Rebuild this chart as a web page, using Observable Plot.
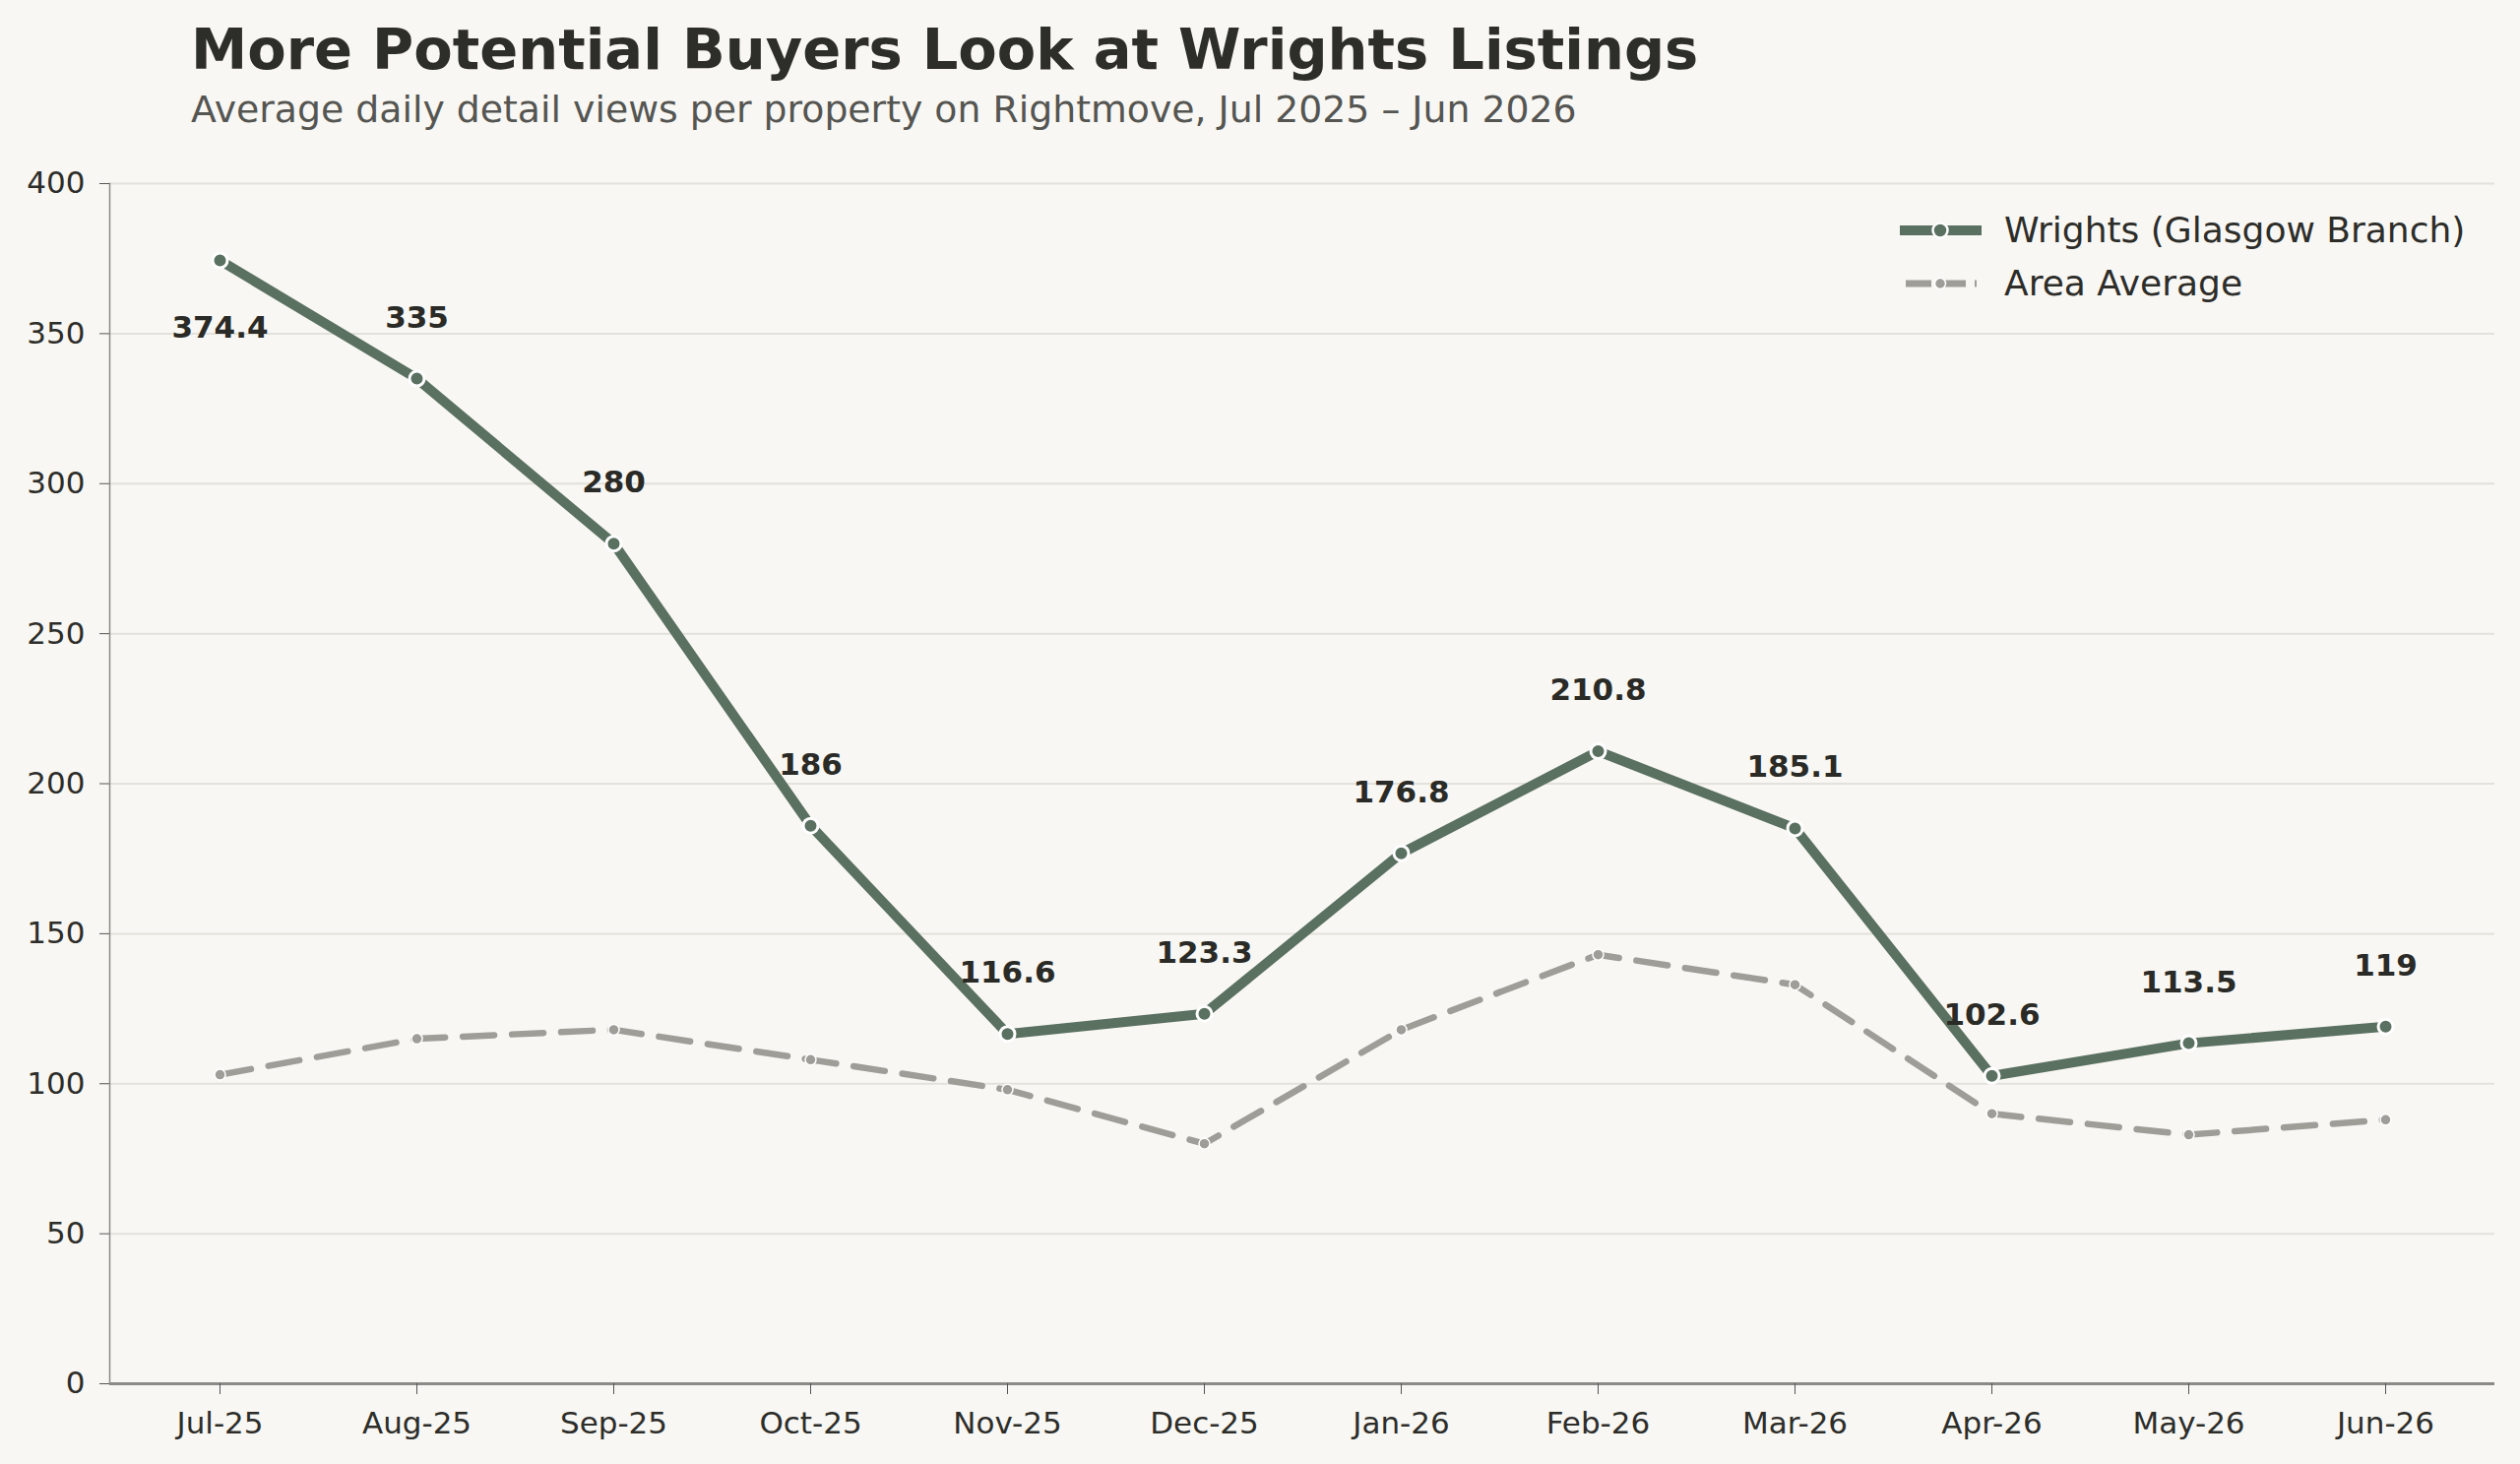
<!DOCTYPE html>
<html>
<head>
<meta charset="utf-8">
<script src="https://cdn.jsdelivr.net/npm/d3@7"></script>
<script src="https://cdn.jsdelivr.net/npm/@observablehq/plot@0.6"></script>
<style>
  html, body { margin: 0; padding: 0; background: #f8f7f3; }
  #wrap { position: relative; width: 2560px; height: 1487px; background: #f8f7f3; font-family: "DejaVu Sans", sans-serif; }
  #header { position: relative; height: 150px; }
  #title { position: absolute; left: 194px; top: 22px; font-size: 57.5px; line-height: 1; font-weight: bold; color: #2d2d2a; white-space: nowrap; }
  #subtitle { position: absolute; left: 194px; top: 93px; font-size: 37.8px; line-height: 1; color: #555552; white-space: nowrap; }
  #legend { position: absolute; left: 1925px; top: 206px; font-size: 36px; color: #2d2d2a; }
  .row { position: absolute; left: 0; height: 56px; white-space: nowrap; }
  .row svg { position: absolute; left: 0; top: 0; }
  .row span { position: absolute; left: 111px; top: 28px; transform: translateY(-50%); line-height: 1; }
</style>
</head>
<body>
<div id="wrap">
  <div id="header">
    <div id="title"></div>
    <div id="subtitle"></div>
  </div>
  <div id="chart"></div>
  <div id="legend"></div>
</div>
<script>
const titleText = "More Potential Buyers Look at Wrights Listings";
const subtitleText = "Average daily detail views per property on Rightmove, Jul 2025 \u2013 Jun 2026";
const months = ["Jul-25","Aug-25","Sep-25","Oct-25","Nov-25","Dec-25","Jan-26","Feb-26","Mar-26","Apr-26","May-26","Jun-26"];
const wrights = [374.4, 335, 280, 186, 116.6, 123.3, 176.8, 210.8, 185.1, 102.6, 113.5, 119];
const areaAvg = [103, 115, 118, 108, 98, 80, 118, 143, 133, 90, 83, 88];
const yTicks = [0, 50, 100, 150, 200, 250, 300, 350, 400];
const seriesNames = ["Wrights (Glasgow Branch)", "Area Average"];

const GREEN = "#5a7060";
const GRAY = "#9e9d98";

document.getElementById("title").textContent = titleText;
document.getElementById("subtitle").textContent = subtitleText;

const wData = months.map((m, i) => ({month: m, value: wrights[i]}));
const aData = months.map((m, i) => ({month: m, value: areaAvg[i]}));
const above = wData.filter(d => d.value < 360);
const below = wData.filter(d => d.value >= 360);

const chart = Plot.plot({
  width: 2560,
  height: 1337,
  marginLeft: 111,
  marginRight: 26,
  marginTop: 36,
  marginBottom: 82,
  style: {fontFamily: "DejaVu Sans, sans-serif", fontSize: "31px", background: "#f8f7f3", color: "#2d2d2a"},
  x: {type: "point", domain: months, padding: 0.555},
  y: {domain: [0, 400]},
  marks: [
    Plot.gridY(yTicks, {stroke: "#e2e1dc", strokeOpacity: 1, strokeWidth: 2}),
    Plot.frame({anchor: "left", stroke: "#8a8a86", strokeWidth: 1.5}),
    Plot.ruleY([0], {stroke: "#8a8a86", strokeWidth: 3}),
    Plot.axisY({ticks: yTicks, tickSize: 10, tickPadding: 15, label: null, stroke: "#555", fill: "#2d2d2a", fontSize: 31}),
    Plot.axisX({tickSize: 11, tickPadding: 17, label: null, stroke: "#555", fill: "#2d2d2a", fontSize: 31}),
    Plot.line(aData, {x: "month", y: "value", stroke: GRAY, strokeWidth: 6.5, strokeDasharray: "32 18"}),
    Plot.dot(aData, {x: "month", y: "value", r: 5.5, fill: GRAY, stroke: "white", strokeWidth: 1.5}),
    Plot.line(wData, {x: "month", y: "value", stroke: GREEN, strokeWidth: 10}),
    Plot.dot(wData, {x: "month", y: "value", r: 7.5, fill: GREEN, stroke: "white", strokeWidth: 3}),
    Plot.text(above, {x: "month", y: "value", text: d => String(d.value), lineAnchor: "bottom", dy: -52, fontWeight: "bold", fontSize: 31, fill: "#2a2a26"}),
    Plot.text(below, {x: "month", y: "value", text: d => String(d.value), lineAnchor: "bottom", dy: 78, fontWeight: "bold", fontSize: 31, fill: "#2a2a26"})
  ]
});
document.getElementById("chart").appendChild(chart);

// legend
const legend = document.getElementById("legend");
const samples = [
  `<svg width="100" height="56"><line x1="5" x2="88" y1="28" y2="28" stroke="${GREEN}" stroke-width="10"/><circle cx="46" cy="28" r="7.5" fill="${GREEN}" stroke="white" stroke-width="2.5"/></svg>`,
  `<svg width="100" height="56"><line x1="11" x2="83" y1="28" y2="28" stroke="${GRAY}" stroke-width="7" stroke-dasharray="26 9"/><circle cx="46" cy="28" r="5.5" fill="${GRAY}" stroke="white" stroke-width="1.5"/></svg>`
];
seriesNames.forEach((name, i) => {
  const row = document.createElement("div");
  row.className = "row";
  row.style.top = (i * 54) + "px";
  row.innerHTML = samples[i];
  const s = document.createElement("span");
  s.textContent = name;
  row.appendChild(s);
  legend.appendChild(row);
});
</script>
</body>
</html>
